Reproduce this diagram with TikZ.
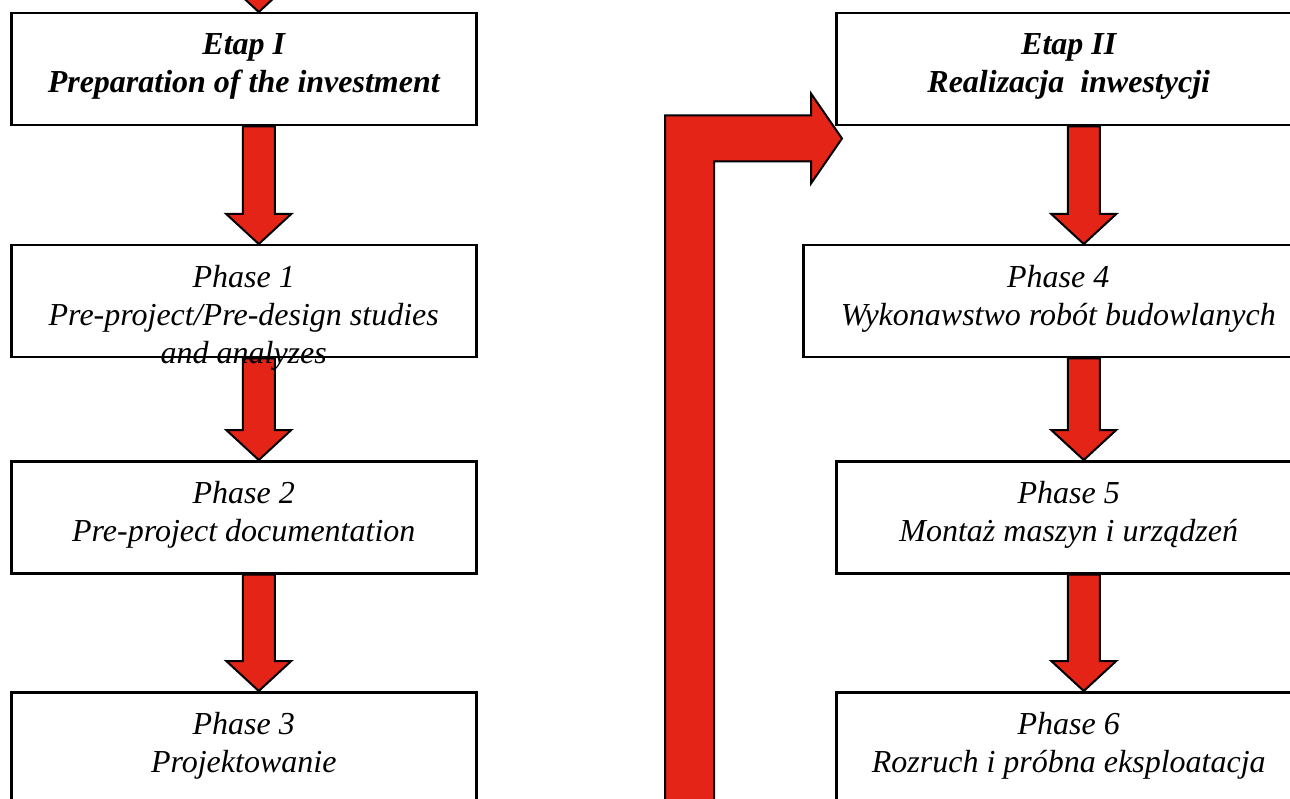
\documentclass[tikz,border=0pt]{standalone}
\usepackage{fontspec}
\setmainfont{Liberation Serif}
\usetikzlibrary{calc}
\definecolor{arrowred}{RGB}{227,36,22}
\tikzset{
  stagebox/.style={draw,line width=2.5pt,inner sep=0pt,anchor=north west,minimum width=465pt,minimum height=112pt},
  boxtext/.style={anchor=north,inner sep=0pt,align=center,font=\fontsize{32}{38}\selectfont\itshape},
  redarrow/.style={fill=arrowred,draw=black,line width=2pt,line join=miter}
}
% block arrow from the bottom of #1 to the top of #2
\newcommand\redarrow[2]{%
  \draw [redarrow] let \p1=(#1), \p2=(#2) in
    (\x2-16pt,\y1) -- (\x2+16pt,\y1) -- (\x2+16pt,\y2+30pt) -- (\x2+32.5pt,\y2+30pt)
    -- (\x2,\y2) -- (\x2-32.5pt,\y2+30pt) -- (\x2-16pt,\y2+30pt) -- cycle;}
\begin{document}
\begin{tikzpicture}[x=1pt,y=-1pt]
\useasboundingbox (0,0) rectangle (1290,799);
%%
  % Nodes: Etap I column
  \node [stagebox] (e1) at (10,12) {};
  \node [stagebox] (p1) at (10,244) {};
  \node [stagebox] (p2) at (10,460) {};
  \node [stagebox] (p3) at (10,691) {};
  % Nodes: Etap II column
  \node [stagebox] (e2) at (835,12) {};
  \node [stagebox,minimum width=510pt] (p4) at (802,244) {};
  \node [stagebox] (p5) at (835,460) {};
  \node [stagebox] (p6) at (835,691) {};
%%
  % Edge: (start) -> Etap I
  \coordinate (start) at (257.5,-60);
  \redarrow{start}{[xshift=15pt]e1.north}
  % Edge: Etap I -> Phase 1 -> Phase 2 -> Phase 3
  \redarrow{e1.south}{[xshift=15pt]p1.north}
  \redarrow{p1.south}{[xshift=15pt]p2.north}
  \redarrow{p2.south}{[xshift=15pt]p3.north}
  % Edge: Etap II -> Phase 4 -> Phase 5 -> Phase 6
  \redarrow{e2.south}{[xshift=15pt]e2.south |- p4.north}
  \redarrow{p4.south}{[xshift=15pt]p5.north}
  \redarrow{p5.south}{[xshift=15pt]p6.north}
  % Edge: Etap I column -> Etap II
  \coordinate (back) at (689.5,830);
  \coordinate (tip) at ([shift={(7,12)}]e2.south west);
  \draw [redarrow] let \p1=(back), \p2=(tip) in
    (\x1-24.5pt,\y1) -- (\x1-24.5pt,\y2+23pt) -- (\x2-31pt,\y2+23pt) -- (\x2-31pt,\y2+45pt)
    -- (\x2,\y2) -- (\x2-31pt,\y2-45pt) -- (\x2-31pt,\y2-23pt) -- (\x1+24.5pt,\y2-23pt)
    -- (\x1+24.5pt,\y1) -- cycle;
%%
  % Texts
  \node [boxtext] (e1t) at ([yshift=-21pt]e1.north) {\bfseries Etap I\\\bfseries Preparation of the investment};
  \node [boxtext] (p1t) at ([yshift=-21pt]p1.north) {Phase 1\\Pre-project/Pre-design studies\\and analyzes};
  \node [boxtext] (p2t) at ([yshift=-21pt]p2.north) {Phase 2\\Pre-project documentation};
  \node [boxtext] (p3t) at ([yshift=-21pt]p3.north) {Phase 3\\Projektowanie};
  \node [boxtext] (e2t) at ([yshift=-21pt]e2.north) {\bfseries Etap II\\\bfseries Realizacja\ \ inwestycji};
  \node [boxtext] (p4t) at ([yshift=-21pt]p4.north) {Phase 4\\Wykonawstwo robót budowlanych};
  \node [boxtext] (p5t) at ([yshift=-21pt]p5.north) {Phase 5\\Montaż maszyn i urządzeń};
  \node [boxtext] (p6t) at ([yshift=-21pt]p6.north) {Phase 6\\Rozruch i próbna eksploatacja};
%
\end{tikzpicture}
\end{document}
